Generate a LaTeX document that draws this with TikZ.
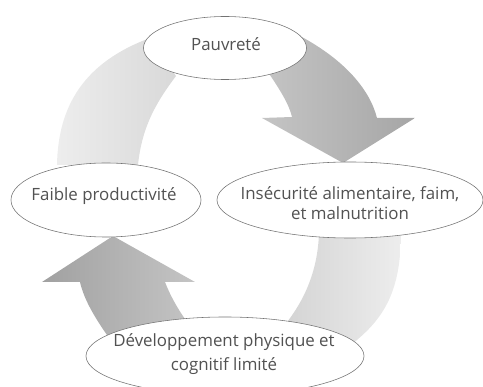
\documentclass[tikz,border=0pt]{standalone}
\usepackage{fontspec}
\setmainfont{Open Sans}
\usetikzlibrary{shapes.geometric, positioning}

\begin{document}
\begin{tikzpicture}[x=0.025cm, y=-0.025cm,
    bulle/.style={ellipse, draw=black!55, line width=0.4pt, fill=white, inner sep=0pt},
    texte/.style={text=black!68, font=\fontsize{12}{14.5}\selectfont, align=center, inner sep=0pt},
    clair/.style={shading=axis, shading angle=90},
  ]
    \clip (0,0) rectangle (483,387);

    % fleches du cycle
    \path[clair, left color=black!7, right color=black!15]
      (57,165) .. controls (58,105) and (85,62) .. (150,38)
      -- (176,76) .. controls (158,100) and (142,125) .. (138,165) -- cycle;

    \path[clair, left color=black!23, right color=black!35]
      (268,72) .. controls (280,90) and (289,104) .. (292,117)
      -- (262,118) -- (343,163) -- (415,118) -- (377,118)
      .. controls (370,90) and (345,60) .. (300,36) -- cycle;

    \path[clair, left color=black!17, right color=black!7]
      (319,232) .. controls (318,270) and (305,300) .. (284,326)
      -- (352,344) .. controls (385,318) and (401,290) .. (401,232) -- cycle;

    \path[clair, left color=black!37, right color=black!23]
      (112,342) .. controls (96,320) and (84,300) .. (80,282)
      -- (42,282) -- (113,236) -- (195,282) -- (165,282)
      .. controls (170,295) and (178,310) .. (190,326) -- cycle;

    % bulles
    \node[bulle, minimum width=4.075cm, minimum height=1.575cm] (pauvrete) at (225,48) {};
    \node[bulle, minimum width=4.75cm, minimum height=1.85cm] (faible) at (106,200) {};
    \node[bulle, minimum width=6.65cm, minimum height=1.9cm] (insecurite) at (350,200) {};
    \node[bulle, minimum width=6.95cm, minimum height=1.95cm] (developpement) at (225,356) {};

    % textes
    \node[texte] (t-pauvrete) at (226,44) {Pauvreté};
    \node[texte] (t-faible) at (104,196) {Faible productivité};
    \node[texte] (t-insecurite) at (350,203) {Insécurité alimentaire, faim,\\ et malnutrition};
    \node[texte, font=\fontsize{12}{16.5}\selectfont] (t-developpement) at (224,354)
      {Développement physique et\\ cognitif limité};
\end{tikzpicture}
\end{document}
